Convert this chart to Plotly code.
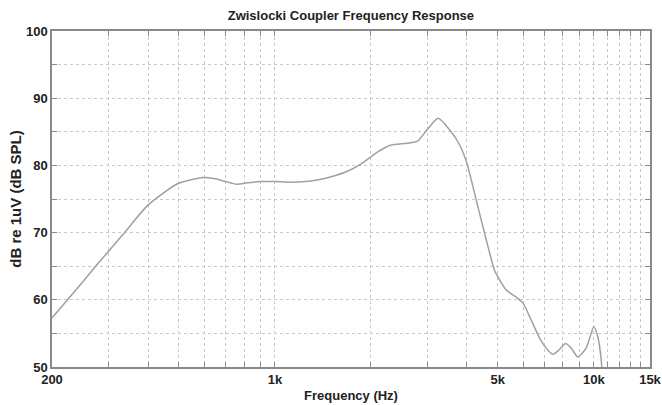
import plotly.graph_objects as go

freq_hz = [200, 250, 280, 339, 396, 450, 497, 550, 596, 650, 700, 758, 820, 897, 1000,
           1114, 1250, 1383, 1500, 1700, 1900, 2100, 2300, 2600, 2800, 3000, 3250,
           3530, 3800, 4000, 4180, 4380, 4600, 4880, 5000, 5300, 5780, 6000, 6360,
           6760, 7180, 7440, 7800, 8150, 8500, 8900, 9460, 10000, 10290, 10550, 10700]
level_db = [57.3, 62.7, 65.5, 70.1, 73.9, 76.0, 77.3, 77.9, 78.2, 78.0, 77.6, 77.2, 77.4, 77.6, 77.6,
            77.5, 77.6, 77.9, 78.3, 79.2, 80.5, 82.0, 83.0, 83.3, 83.6, 85.3, 87.0,
            85.3, 83.0, 80.3, 76.8, 72.9, 68.9, 64.4, 63.4, 61.5, 60.2, 59.5, 57.0,
            54.3, 52.5, 51.9, 52.6, 53.5, 52.8, 51.5, 52.8, 56.0, 54.5, 51.0, 46.0]

x_tick_vals = [200, 1000, 5000, 10000, 15000]
x_tick_text = ["200", "1k", "5k", "10k", "15k"]
x_minor_vals = [300, 400, 500, 600, 700, 800, 900,
                2000, 3000, 4000, 6000, 7000, 8000, 9000,
                11000, 12000, 13000, 14000]
y_tick_vals = [50, 60, 70, 80, 90, 100]
y_minor_vals = [55, 65, 75, 85, 95]

FONT = "Liberation Sans, Arial, sans-serif"
AXCOL = "#8a8a8a"
GRIDCOL = "#c8c8c8"

fig = go.Figure()
fig.add_trace(go.Scatter(
    x=freq_hz, y=level_db, mode="lines",
    line=dict(color="#a0a0a0", width=1.5, shape="spline", smoothing=0.6),
    showlegend=False, hoverinfo="skip",
))

fig.update_layout(
    width=662, height=405,
    margin=dict(l=52, r=12, t=31, b=38, autoexpand=False),
    paper_bgcolor="white", plot_bgcolor="white",
    title=dict(text="Zwislocki Coupler Frequency Response", x=0.53, xanchor="center",
               y=0.962, yanchor="middle", automargin=False,
               font=dict(family=FONT, size=13, color="#222", weight="bold")),
    font=dict(family=FONT, color="#222"),
)

fig.update_xaxes(
    type="log", range=[2.30103, 4.176091], automargin=False,
    tickmode="array", tickvals=x_tick_vals, ticktext=x_tick_text,
    tickfont=dict(family=FONT, size=13, color="#222", weight="bold"),
    ticks="inside", ticklen=5, tickcolor=AXCOL,
    showgrid=True, gridcolor=GRIDCOL, griddash="dot", gridwidth=1,
    minor=dict(tickmode="array", tickvals=x_minor_vals, ticks="inside", ticklen=5,
               tickcolor=AXCOL, showgrid=True, gridcolor=GRIDCOL, griddash="dot", gridwidth=1),
    showline=True, linecolor=AXCOL, linewidth=1.5, mirror="ticks",
    zeroline=False,
    title=dict(text="Frequency (Hz)", standoff=5,
               font=dict(family=FONT, size=13, color="#222", weight="bold")),
)

fig.update_yaxes(
    range=[50, 100], automargin=False,
    tickmode="array", tickvals=y_tick_vals,
    tickfont=dict(family=FONT, size=13, color="#222", weight="bold"),
    ticks="inside", ticklen=5, tickcolor=AXCOL,
    showgrid=True, gridcolor=GRIDCOL, griddash="dot", gridwidth=1,
    minor=dict(tickmode="array", tickvals=y_minor_vals, ticks="inside", ticklen=5,
               tickcolor=AXCOL, showgrid=True, gridcolor=GRIDCOL, griddash="dot", gridwidth=1),
    showline=True, linecolor=AXCOL, linewidth=1.5, mirror="ticks",
    zeroline=False,
    title=dict(text="dB re 1uV (dB SPL)", standoff=1,
               font=dict(family=FONT, size=15, color="#222", weight="bold")),
)

fig.write_html("out.html", config={"displayModeBar": False},
               post_script="document.body.style.margin='0';document.body.style.padding='0';")
